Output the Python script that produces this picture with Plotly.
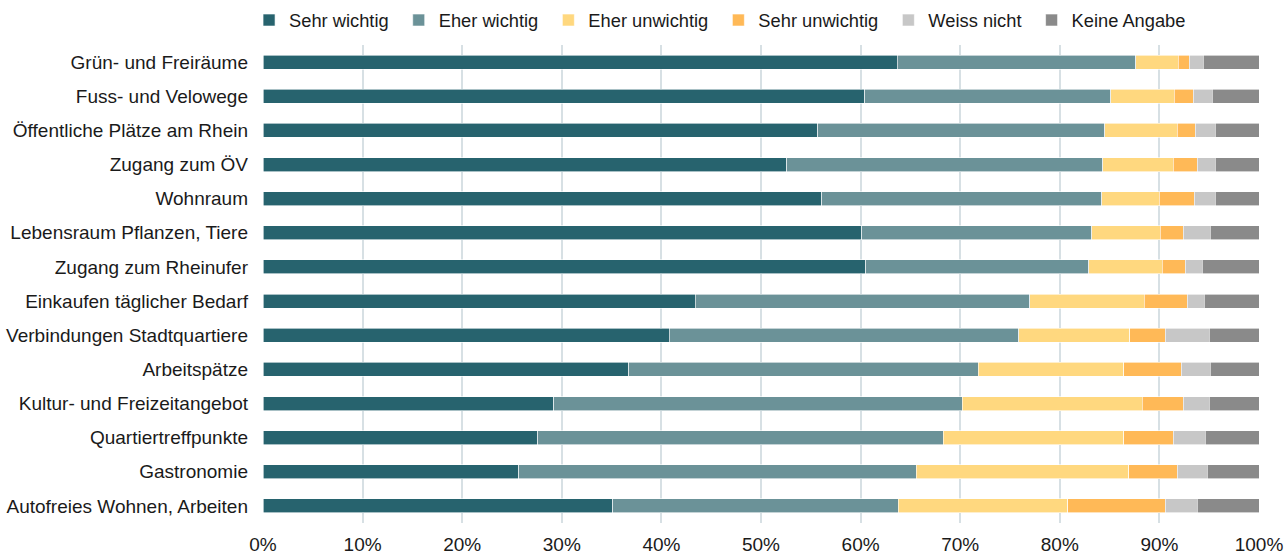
import plotly.graph_objects as go

categories = [
    "Grün- und Freiräume",
    "Fuss- und Velowege",
    "Öffentliche Plätze am Rhein",
    "Zugang zum ÖV",
    "Wohnraum",
    "Lebensraum Pflanzen, Tiere",
    "Zugang zum Rheinufer",
    "Einkaufen täglicher Bedarf",
    "Verbindungen Stadtquartiere",
    "Arbeitspätze",
    "Kultur- und Freizeitangebot",
    "Quartiertreffpunkte",
    "Gastronomie",
    "Autofreies Wohnen, Arbeiten",
]

sehr_wichtig = [63.7, 60.4, 55.7, 52.6, 56.1, 60.1, 60.5, 43.4, 40.8, 36.7, 29.2, 27.6, 25.7, 35.1]
eher_wichtig = [23.9, 24.7, 28.8, 31.7, 28.1, 23.1, 22.4, 33.6, 35.1, 35.1, 41.0, 40.7, 39.9, 28.7]
eher_unwichtig = [4.3, 6.4, 7.3, 7.1, 5.8, 6.9, 7.4, 11.5, 11.1, 14.6, 18.1, 18.1, 21.3, 17.0]
sehr_unwichtig = [1.1, 1.9, 1.8, 2.4, 3.5, 2.3, 2.3, 4.3, 3.6, 5.8, 4.1, 5.0, 4.9, 9.8]
weiss_nicht = [1.4, 1.9, 2.0, 1.8, 2.1, 2.7, 1.7, 1.7, 4.4, 2.9, 2.6, 3.2, 3.0, 3.2]
keine_angabe = [5.6, 4.7, 4.4, 4.4, 4.4, 4.9, 5.7, 5.5, 5.0, 4.9, 5.0, 5.4, 5.2, 6.2]

series = [
    ("Sehr wichtig", sehr_wichtig, "#27636E"),
    ("Eher wichtig", eher_wichtig, "#6B9298"),
    ("Eher unwichtig", eher_unwichtig, "#FFD87F"),
    ("Sehr unwichtig", sehr_unwichtig, "#FFB957"),
    ("Weiss nicht", weiss_nicht, "#C7C7C7"),
    ("Keine Angabe", keine_angabe, "#8A8A8A"),
]

fig = go.Figure()
for name, vals, color in series:
    fig.add_trace(go.Bar(
        y=categories, x=[v / 100 for v in vals], name=name + "\u00a0",
        orientation="h",
        marker=dict(color=color, line=dict(color="white", width=0.6)),
    ))

fig.update_layout(
    barmode="stack",
    bargap=0.59,
    width=1288, height=553,
    margin=dict(l=263, r=29, t=45, b=30, autoexpand=False),
    paper_bgcolor="white", plot_bgcolor="white",
    font=dict(family="Liberation Sans, Arial, sans-serif", size=19, color="#1a1a1a"),
    legend=dict(orientation="h", x=-0.014, xanchor="left",
                y=1.052, yanchor="middle",
                traceorder="normal", itemwidth=30, font=dict(size=18.3),
                tracegroupgap=0),
    xaxis=dict(range=[0, 1], tickformat=".0%", dtick=0.1, showgrid=True,
               gridcolor="#D7E0E4", gridwidth=1.5, zeroline=False,
               ticks="outside", ticklen=0, tickcolor="#D7E0E4",
               ticklabelstandoff=4, automargin=False,
               showline=False, fixedrange=True),
    yaxis=dict(autorange="reversed", ticks="", ticklabelstandoff=14,
               automargin=False, showline=False, showgrid=False),
    showlegend=True,
)

fig.write_html("out.html", config={"displayModeBar": False},
               post_script="document.body.style.margin='0';document.body.style.overflow='hidden';")
